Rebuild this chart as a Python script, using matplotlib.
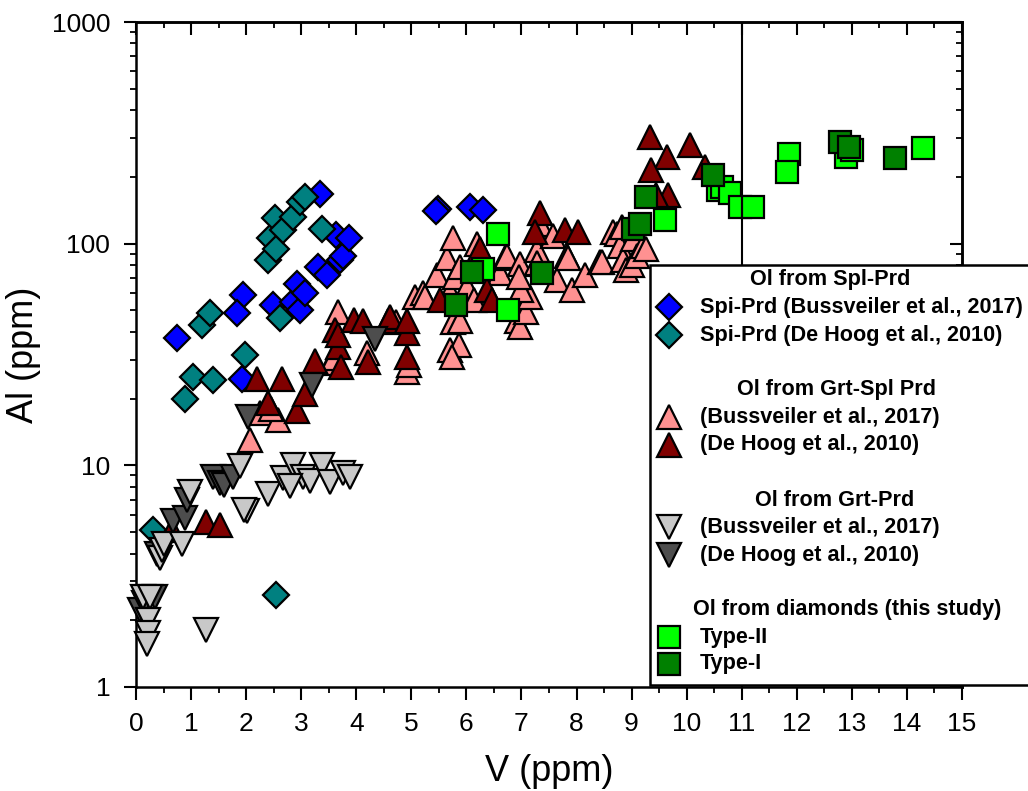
import matplotlib
matplotlib.use("Agg")
import matplotlib.pyplot as plt
from matplotlib.lines import Line2D
from matplotlib.patches import Rectangle
from matplotlib.ticker import MultipleLocator, LogLocator, NullFormatter, FixedLocator, FixedFormatter

# ---------------- data ----------------
spl_buss_V = [0.74, 1.92, 1.95, 1.83, 2.49, 2.86, 2.92, 2.98, 3.07, 3.31, 3.46, 3.70, 3.75, 3.64, 3.86, 3.34, 5.49, 5.45, 6.06, 6.31]
spl_buss_Al = [37.5, 24.5, 58.7, 48.5, 52.9, 54.7, 66, 50, 59.7, 78.7, 72, 84, 88, 109, 106, 168, 144, 141, 147, 142]

spl_dh_V = [0.31, 0.89, 1.04, 1.19, 1.34, 1.40, 1.98, 2.40, 2.43, 2.55, 2.52, 2.67, 2.86, 2.98, 3.07, 3.37, 2.61, 2.55]
spl_dh_Al = [5.1, 20, 25.1, 43, 48.5, 24.3, 31.4, 84, 105.6, 95, 130, 115, 132, 154.5, 163, 117, 46, 2.6]

grtspl_buss_V = [2.07, 2.25, 2.58, 2.45, 3.55, 3.60, 3.67, 4.19, 4.73, 4.92, 4.95,
                 5.07, 5.22, 5.25, 5.46, 5.64, 5.70, 5.76, 5.79, 5.76, 5.88, 5.70, 5.86, 5.73, 5.88,
                 6.01, 6.13, 6.20, 6.61, 6.70, 6.73, 6.91, 6.97, 6.97, 7.09, 7.15, 7.28, 7.28, 7.34,
                 7.58, 7.64, 7.82, 7.85, 7.91, 8.15, 8.43, 8.46, 8.67, 8.73, 8.79, 8.85, 8.82,
                 8.90, 9.00, 9.03, 9.10, 9.20, 9.27, 7.00, 6.95]
grtspl_buss_Al = [13, 17.2, 16, 18, 29, 30.4, 49.3, 32, 44.5, 26.4, 28.5,
                  57.6, 59.7, 57.6, 72, 86, 60.7, 106, 71, 44.5, 78.7, 33, 34.9, 30.9, 45,
                  64, 55.7, 100, 74, 86, 87.6, 45, 42.2, 81, 49.3, 57.6, 93.5, 81.5, 123,
                  108, 68.6, 87.6, 86, 61.8, 72, 82.8, 82.8, 113, 111, 97.5, 84, 119,
                  76, 80, 105, 88, 97.5, 95, 61.8, 71]

grtspl_dh_V = [0.65, 1.28, 1.53, 2.19, 2.65, 2.40, 2.92, 3.07, 3.25, 3.61, 3.67, 3.73, 3.67,
               3.95, 4.13, 4.22, 4.58, 4.61, 4.92, 4.92, 4.92, 5.52, 6.25, 6.37, 6.46,
               7.34, 7.25, 7.79, 8.03, 9.33, 9.64, 10.06, 9.36, 10.33, 9.67, 9.45]
grtspl_dh_Al = [5.1, 5.57, 5.38, 24.5, 24.5, 19.2, 17.6, 21, 29.5, 40.8, 34.3, 27.9, 38.7,
                45.2, 45, 29.3, 45, 46.8, 39.4, 30.9, 45, 55.7, 95, 61.8, 55.7,
                137, 113, 115, 113, 303, 246, 279, 214, 222, 166, 165]

grt_buss_V = [0.13, 0.25, 0.22, 0.22, 0.20, 1.28, 0.44, 0.47, 0.50, 0.83, 0.98, 1.89, 2.01, 1.97,
              2.40, 2.67, 2.86, 3.04, 3.16, 3.37, 3.52, 3.76, 3.89, 2.80]
grt_buss_Al = [2.55, 2.55, 2.0, 1.75, 1.57, 1.81, 3.8, 4.15, 4.4, 4.4, 7.6, 9.9, 6.2, 6.3,
               7.4, 8.8, 10, 8.9, 8.5, 10, 8.4, 9.2, 8.9, 8.1]

grt_dh_V = [0.07, 0.34, 0.15, 0.38, 0.67, 0.89, 0.92, 1.40, 1.53, 1.59, 1.77, 2.04, 3.19, 4.34]
grt_dh_Al = [2.22, 2.55, 2.4, 4.0, 5.6, 5.77, 6.97, 8.9, 8.3, 8.15, 8.9, 16.6, 23, 37]

typeII_V = [6.31, 6.58, 6.76, 9.61, 10.57, 10.64, 10.79, 10.97, 11.21, 11.85, 11.82, 12.90, 13.00, 14.30]
typeII_Al = [77, 111, 50, 128, 175, 181, 169, 147, 147, 255, 211, 247, 265, 269]

typeI_V = [5.82, 6.10, 7.37, 9.03, 9.15, 9.27, 10.48, 12.78, 12.94, 13.78]
typeI_Al = [52.9, 74.7, 73.5, 117, 123, 163, 204, 288, 274, 243]

x_ticks = list(range(0, 16))
y_ticks = [1, 10, 100, 1000]
y_tick_labels = ["1", "10", "100", "1000"]

# ---------------- style ----------------
FONT = ['Liberation Sans', 'DejaVu Sans']
plt.rcParams['font.family'] = FONT

W, H = 1028, 791
fig = plt.figure(figsize=(W / 100, H / 100), dpi=100)
ax = fig.add_axes([136 / W, 1 - 687 / H, (962 - 136) / W, (687 - 22) / H])

ax.set_xscale('linear')
ax.set_yscale('log')
ax.set_xlim(0, 15)
ax.set_ylim(1, 1000)

EW = 1.6
series = [
    (spl_buss_V, spl_buss_Al, 'D', '#0000FF', 13.5, "Spi-Prd (Bussveiler et al., 2017)"),
    (spl_dh_V, spl_dh_Al, 'D', '#008080', 13.5, "Spi-Prd (De Hoog et al., 2010)"),
    (grtspl_buss_V, grtspl_buss_Al, '^', '#FF9191', 17, "(Bussveiler et al., 2017)"),
    (grtspl_dh_V, grtspl_dh_Al, '^', '#800000', 17, "(De Hoog et al., 2010)"),
    (grt_dh_V, grt_dh_Al, 'v', '#4D4D4D', 17, "(De Hoog et al., 2010)"),
    (grt_buss_V, grt_buss_Al, 'v', '#C8C8C8', 17, "(Bussveiler et al., 2017)"),
    (typeII_V, typeII_Al, 's', '#00FF00', 15.5, "Type-II"),
    (typeI_V, typeI_Al, 's', '#008000', 15.5, "Type-I"),
]
for xs, ys, m, c, ms, lab in series:
    ax.plot(xs, ys, linestyle='none', marker=m, markersize=ms, markerfacecolor=c,
            markeredgecolor='black', markeredgewidth=EW, clip_on=False, zorder=3)

ax.axvline(11, color='black', lw=1.5, zorder=2)

for s in ax.spines.values():
    s.set_linewidth(1.8)

ax.xaxis.set_major_locator(FixedLocator(x_ticks))
ax.xaxis.set_minor_locator(MultipleLocator(0.5))
ax.yaxis.set_major_locator(FixedLocator(y_ticks))
ax.yaxis.set_major_formatter(FixedFormatter(y_tick_labels))
ax.yaxis.set_minor_locator(LogLocator(base=10, subs=range(2, 10), numticks=20))
ax.yaxis.set_minor_formatter(NullFormatter())
ax.tick_params(which='major', direction='out', length=9, width=1.5, labelsize=19)
ax.tick_params(axis='x', which='major', pad=9)
ax.tick_params(axis='y', which='major', pad=9.5)
ax.tick_params(which='minor', direction='out', length=4.5, width=1.3)

secx = ax.secondary_xaxis('top')
secx.xaxis.set_major_locator(FixedLocator(x_ticks))
secx.xaxis.set_minor_locator(MultipleLocator(0.5))
secx.tick_params(which='major', direction='in', length=9, width=1.5, labeltop=False)
secx.tick_params(which='minor', direction='in', length=4.5, width=1.3)
secx.spines['top'].set_linewidth(1.8)

secy = ax.secondary_yaxis('right')
secy.yaxis.set_major_locator(FixedLocator(y_ticks))
secy.yaxis.set_minor_locator(LogLocator(base=10, subs=range(2, 10), numticks=20))
secy.yaxis.set_minor_formatter(NullFormatter())
secy.tick_params(which='major', direction='in', length=9, width=1.5, labelright=False)
secy.tick_params(which='minor', direction='in', length=4.5, width=1.3)
secy.spines['right'].set_linewidth(1.8)

ax.set_xlabel("V (ppm)", fontsize=26, labelpad=13)
ax.set_ylabel("Al (ppm)", fontsize=26, labelpad=8)

# ---------------- legend (drawn in figure pixels) ----------------
def fx(px):
    return px / W

def fy(py):
    return 1 - py / H

fig.add_artist(Rectangle((fx(650), fy(685)), fx(1040) - fx(650), fy(265) - fy(685),
                         transform=fig.transFigure, facecolor='white', edgecolor='black',
                         linewidth=1.8, zorder=10))

LFONT = ['Liberation Sans', 'DejaVu Sans']
LSIZE = 15.6
headers = [("Ol from Spl-Prd", 750, 280), ("Ol from Grt-Spl Prd", 737, 390),
           ("Ol from Grt-Prd", 755, 500), ("Ol from diamonds (this study)", 693, 610)]
for txt, x, y in headers:
    fig.text(fx(x), fy(y), txt, ha='left', va='center', fontsize=LSIZE, fontweight='bold',
             family=LFONT, zorder=11)

rows_y = [307, 335, 417, 445, 527, 555, 637, 664]
order = [0, 1, 2, 3, 5, 4, 6, 7]
for ry, si in zip(rows_y, order):
    xs, ys, m, c, ms, lab = series[si]
    fig.add_artist(Line2D([fx(669)], [fy(ry)], transform=fig.transFigure, linestyle='none',
                          marker=m, markersize=ms, markerfacecolor=c,
                          markeredgecolor='black', markeredgewidth=EW, zorder=11))
    fig.text(fx(700), fy(ry), lab, ha='left', va='center', fontsize=LSIZE, fontweight='bold',
             family=LFONT, zorder=11)

fig.savefig("out.png", dpi=100)
